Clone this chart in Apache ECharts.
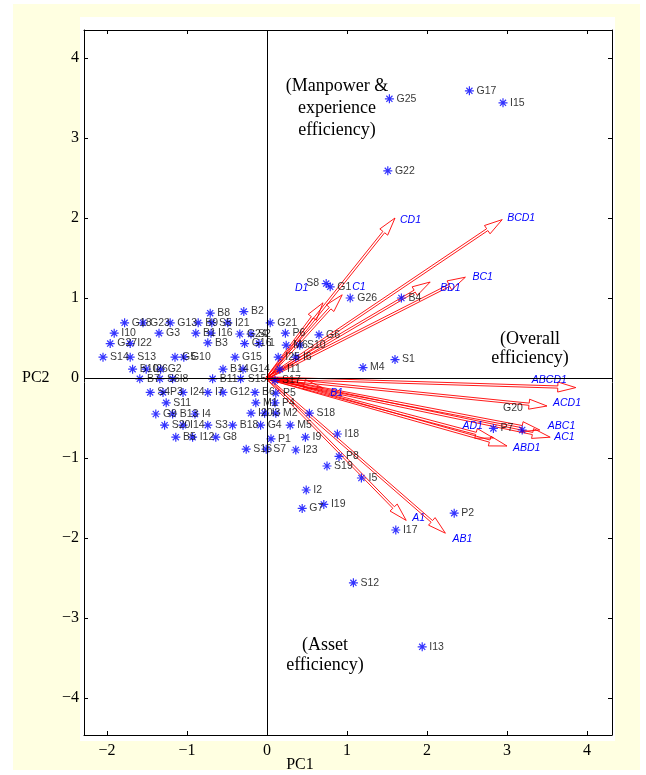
<!DOCTYPE html>
<html>
<head>
<meta charset="utf-8">
<script src="https://cdn.jsdelivr.net/npm/echarts@6/dist/echarts.min.js"></script>
<style>
  html, body { margin: 0; padding: 0; background: #fff; }
  #chart { width: 646px; height: 775px; }
</style>
</head>
<body>
<div id="chart"></div>
<script>
// observation scores (PC1, PC2)
var pointNames = ['G17','I15','G25','G22','G26','B4','G1','S8','B2','B8',
  'G18','G23','G13','B9','S5','I21','G21','I10','G3','B1',
  'I16','G24','S2','P6','G6','G27','I22','B3','G16','I1',
  'M6','S10','S14','S13','G5','G10','G15','I25','I6','S1',
  'M4','B10','I26','G2','B14','G14','I11','B7','S6','I8',
  'B11','S15','S17','S4','P3','I24','I7','G12','B6','P5',
  'S11','M1','P4','G9','B13','I4','I20','I3','M2','S18',
  'S20','I14','S3','B18','G4','M5','B5','I12','G8','P1',
  'I9','I18','S16','S7','I23','P8','S19','I5','I2','G7',
  'I19','I17','P2','S12','I13','P7','G20'];
var pointPC1 = [2.53,2.95,1.53,1.51,1.04,1.68,0.79,0.74,-0.29,-0.71,
  -1.78,-1.55,-1.21,-0.86,-0.69,-0.49,0.04,-1.91,-1.35,-0.89,
  -0.70,-0.34,-0.20,0.23,0.65,-1.96,-1.71,-0.74,-0.28,-0.10,
  0.24,0.41,-2.05,-1.71,-1.15,-1.04,-0.40,0.14,0.36,1.60,
  1.20,-1.68,-1.51,-1.33,-0.55,-0.30,0.16,-1.59,-1.34,-1.18,
  -0.68,-0.33,0.10,-1.46,-1.30,-1.05,-0.74,-0.55,-0.15,0.11,
  -1.26,-0.14,0.10,-1.39,-1.18,-0.90,-0.20,-0.03,0.11,0.53,
  -1.28,-1.05,-0.74,-0.43,-0.08,0.29,-1.14,-0.93,-0.64,0.05,
  0.48,0.88,-0.26,-0.01,0.36,0.90,0.75,1.18,0.49,0.44,
  0.71,1.61,2.34,1.08,1.94,2.83,3.19];
var pointPC2 = [3.59,3.44,3.49,2.59,1.00,1.00,1.14,1.18,0.83,0.81,
  0.69,0.69,0.69,0.69,0.69,0.69,0.69,0.56,0.56,0.56,
  0.56,0.55,0.55,0.56,0.54,0.43,0.43,0.44,0.43,0.43,
  0.41,0.41,0.26,0.26,0.26,0.26,0.26,0.26,0.26,0.23,
  0.13,0.11,0.11,0.11,0.11,0.11,0.11,-0.01,-0.01,-0.01,
  -0.01,-0.01,-0.03,-0.18,-0.18,-0.18,-0.18,-0.18,-0.18,-0.19,
  -0.31,-0.31,-0.31,-0.45,-0.45,-0.45,-0.44,-0.44,-0.44,-0.44,
  -0.59,-0.59,-0.59,-0.59,-0.59,-0.59,-0.74,-0.74,-0.74,-0.76,
  -0.74,-0.70,-0.89,-0.89,-0.90,-0.98,-1.10,-1.25,-1.40,-1.63,
  -1.58,-1.90,-1.69,-2.56,-3.36,-0.63,-0.65];

// variable loadings (arrow tips)
var arrowNames = ['CD1','BCD1','BC1','BD1','C1','D1','ABCD1','ACD1',
  'ABC1','AC1','ABD1','AD1','B1','A1','AB1'];
var arrowPC1 = [1.60,2.94,2.48,2.04,0.94,0.70,3.86,3.50,3.41,3.54,3.00,2.83,0.69,1.74,2.23];
var arrowPC2 = [2.00,1.98,1.26,1.20,1.04,0.94,-0.12,-0.35,-0.65,-0.74,-0.85,-0.75,-0.12,-1.78,-1.94];

var ticksX = [-2, -1, 0, 1, 2, 3, 4];
var ticksY = [-4, -3, -2, -1, 0, 1, 2, 3, 4];

// label placement tweaks (pixels, relative to the arrow tip)
var arrowLabelOffset = {
  CD1: [5, 2], BCD1: [5, -2], BC1: [7, 0], BD1: [10, 6], C1: [10, -8],
  D1: [-28, -15], ABCD1: [-44, -8], ACD1: [6, -3], ABC1: [8, -4],
  AC1: [4, 0], ABD1: [6, 2], AD1: [-31, -12], B1: [8, 5], A1: [6, -2], AB1: [7, 6]
};
var pointLabelPos = { S8: 'left', G20: [-14, -22] };

var minus = function (v) { return String(v).replace('-', '\u2212'); };
var serif = '"Liberation Serif", "Times New Roman", serif';
var sans = '"Liberation Sans", Arial, sans-serif';

var points = pointNames.map(function (n, i) {
  var d = { name: n, value: [pointPC1[i], pointPC2[i]] };
  if (pointLabelPos[n]) d.label = { position: pointLabelPos[n] };
  return d;
});
var arrows = arrowNames.map(function (n, i) {
  return { name: n, value: [arrowPC1[i], arrowPC2[i]] };
});

var chart = echarts.init(document.getElementById('chart'));

var option = {
  backgroundColor: '#ffffff',
  animation: false,
  grid: { left: 84, top: 30, right: 34, bottom: 40 },
  graphic: [
    { type: 'rect', z: -10, shape: { x: 13, y: 4, width: 627, height: 766 }, style: { fill: '#ffffe1' } },
    { type: 'rect', z: -9, shape: { x: 80, y: 17, width: 535, height: 724 }, style: { fill: '#ffffff' } },
    { type: 'text', x: 300, y: 765, style: { text: 'PC1', font: '16px ' + serif, fill: '#000', textAlign: 'center', textVerticalAlign: 'middle' } },
    { type: 'text', x: 22, y: 378, style: { text: 'PC2', font: '16px ' + serif, fill: '#000', textVerticalAlign: 'middle' } },
    { type: 'text', x: 337, y: 75, style: { text: '(Manpower &\nexperience\nefficiency)', font: '18px ' + serif, lineHeight: 22, fill: '#000', textAlign: 'center' } },
    { type: 'text', x: 530, y: 330, style: { text: '(Overall\nefficiency)', font: '18px ' + serif, lineHeight: 19, fill: '#000', textAlign: 'center' } },
    { type: 'text', x: 325, y: 635, style: { text: '(Asset\nefficiency)', font: '18px ' + serif, lineHeight: 20, fill: '#000', textAlign: 'center' } }
  ],
  xAxis: [{
    type: 'value', min: -2.2875, max: 4.3125, position: 'bottom',
    axisLine: { onZero: false, lineStyle: { color: '#000', width: 1 } },
    axisTick: { inside: true, length: 4, customValues: ticksX, lineStyle: { color: '#000' } },
    axisLabel: { customValues: ticksX, formatter: minus, color: '#000', fontFamily: serif, fontSize: 16, margin: 8 },
    splitLine: { show: false }
  }, {
    type: 'value', min: -2.2875, max: 4.3125, position: 'top',
    axisLine: { onZero: false, lineStyle: { color: '#000', width: 1 } },
    axisTick: { inside: true, length: 4, customValues: ticksX, lineStyle: { color: '#000' } },
    axisLabel: { show: false }, splitLine: { show: false }
  }],
  yAxis: [{
    type: 'value', min: -4.4625, max: 4.35, position: 'left',
    axisLine: { onZero: false, lineStyle: { color: '#000', width: 1 } },
    axisTick: { inside: true, length: 4, customValues: ticksY, lineStyle: { color: '#000' } },
    axisLabel: { customValues: ticksY, formatter: minus, color: '#000', fontFamily: serif, fontSize: 16, margin: 5 },
    splitLine: { show: false }
  }, {
    type: 'value', min: -4.4625, max: 4.35, position: 'right',
    axisLine: { onZero: false, lineStyle: { color: '#000', width: 1 } },
    axisTick: { inside: true, length: 4, customValues: ticksY, lineStyle: { color: '#000' } },
    axisLabel: { show: false }, splitLine: { show: false }
  }],
  series: [{
    type: 'custom',
    name: 'loadings',
    data: arrows,
    z: 3,
    renderItem: function (params, api) {
      var name = arrowNames[params.dataIndex];
      var o = api.coord([0, 0]);
      var t = api.coord([api.value(0), api.value(1)]);
      var dx = t[0] - o[0], dy = t[1] - o[1];
      var len = Math.sqrt(dx * dx + dy * dy);
      var ux = dx / len, uy = dy / len, nx = -uy, ny = ux;
      var w = 1.1, h = 5, L = 18;
      var bx = t[0] - ux * L, by = t[1] - uy * L;
      var pts = [
        [o[0] + nx * w, o[1] + ny * w],
        [bx + nx * w, by + ny * w],
        [bx + nx * h, by + ny * h],
        [t[0], t[1]],
        [bx - nx * h, by - ny * h],
        [bx - nx * w, by - ny * w],
        [o[0] - nx * w, o[1] - ny * w]
      ];
      var off = arrowLabelOffset[name] || [5, 0];
      return {
        type: 'group',
        children: [{
          type: 'polyline',
          shape: { points: pts },
          style: { stroke: '#ff0000', lineWidth: 0.9, fill: 'none' }
        }, {
          type: 'text',
          x: t[0] + off[0], y: t[1] + off[1],
          style: { text: name, fill: '#0000ff', font: 'italic 10.5px ' + sans, textVerticalAlign: 'middle' }
        }]
      };
    }
  }, {
    type: 'scatter',
    name: 'scores',
    data: points,
    z: 4,
    symbol: 'path://M5,0L5,10M0,5L10,5M1.6,1.6L8.4,8.4M8.4,1.6L1.6,8.4',
    symbolSize: 9,
    itemStyle: { color: 'rgba(0,0,0,0)', borderColor: '#0000ff', borderWidth: 1.2 },
    label: {
      show: true, position: 'right', distance: 2,
      formatter: '{b}', color: '#000', fontSize: 10.5,
      fontFamily: sans
    },
    markLine: {
      silent: true, symbol: 'none', animation: false,
      label: { show: false },
      lineStyle: { color: '#000', type: 'solid', width: 1 },
      data: [{ xAxis: 0 }, { yAxis: 0 }]
    }
  }]
};

chart.setOption(option);
</script>
</body>
</html>
